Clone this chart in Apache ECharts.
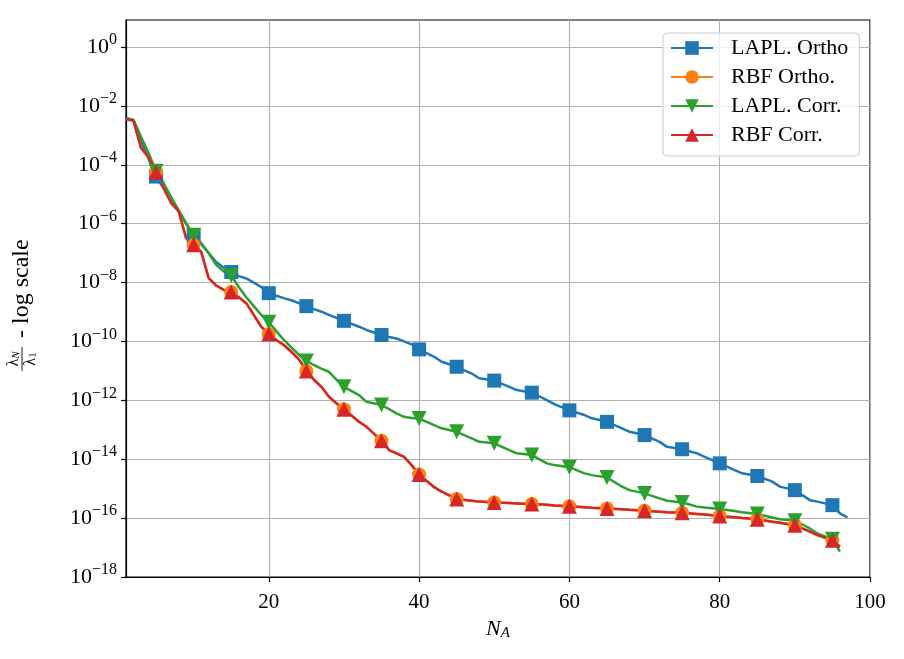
<!DOCTYPE html>
<html>
<head>
<meta charset="utf-8">
<script src="https://cdn.jsdelivr.net/npm/echarts@6/dist/echarts.min.js"></script>
<style>
html,body{margin:0;padding:0;background:#fff;}
#chart{width:904px;height:659px;}
</style>
</head>
<body>
<div id="chart"></div>
<script>
// N_A sample positions (markers every 5)
const N = [1,2,3,4,5,6,7,8,9,10,11,12,13,14,15,16,17,18,19,20,21,22,23,24,25,26,27,28,29,30,
  32,33,35,36,37,38,39,40,42,43,45,47,48,50,52,53,55,57,58,60,62,63,65,67,68,70,
  72,73,75,77,78,80,82,83,85,87,88,90,92,93,95,96,97];

// log10 of lambda_N / lambda_1
const laplOrthoLog = [-2.42,-2.48,-3.2,-3.8,-4.4,-4.8,-5.2,-5.6,-6.0,-6.42,
  -6.7,-7.0,-7.3,-7.5,-7.64,-7.78,-7.86,-8.0,-8.15,-8.36,
  -8.45,-8.53,-8.6,-8.7,-8.8,-8.9,-8.99,-9.1,-9.2,-9.3,
  -9.5,-9.61,-9.78,-9.85,-9.9,-10.0,-10.1,-10.27,
  -10.52,-10.69,-10.86,-11.09,-11.25,-11.33,
  -11.54,-11.65,-11.74,-11.99,-12.13,-12.34,
  -12.5,-12.61,-12.73,-12.95,-13.07,-13.18,
  -13.41,-13.58,-13.66,-13.8,-13.92,-14.14,
  -14.37,-14.48,-14.57,-14.76,-14.93,-15.05,
  -15.39,-15.44,-15.56,-15.84,-15.98];

const rbfOrthoLog = [-2.45,-2.51,-3.43,-3.74,-4.25,-4.79,-5.3,-5.57,-6.49,-6.72,
  -6.95,-7.85,-8.1,-8.25,-8.32,-8.5,-8.7,-9.1,-9.5,-9.75,
  -9.95,-10.12,-10.35,-10.6,-11.0,-11.3,-11.54,-11.88,-12.1,-12.3,
  -12.73,-12.9,-13.37,-13.69,-13.8,-13.92,-14.2,-14.52,
  -14.95,-15.1,-15.35,-15.41,-15.44,-15.47,
  -15.49,-15.5,-15.52,-15.55,-15.57,-15.6,
  -15.63,-15.65,-15.67,-15.7,-15.72,-15.75,
  -15.78,-15.8,-15.82,-15.86,-15.88,-15.93,
  -15.97,-16.0,-16.04,-16.12,-16.16,-16.24,
  -16.46,-16.58,-16.75,-16.97,null];

const laplCorrLog = [-2.42,-2.48,-3.05,-3.6,-4.22,-4.62,-5.1,-5.54,-5.98,-6.39,
  -6.66,-7.0,-7.4,-7.62,-7.76,-8.15,-8.5,-8.8,-9.1,-9.35,
  -9.65,-9.95,-10.2,-10.45,-10.66,-10.8,-10.92,-11.03,-11.3,-11.54,
  -11.82,-12.05,-12.16,-12.3,-12.44,-12.56,-12.6,-12.62,
  -12.84,-12.95,-13.07,-13.29,-13.41,-13.46,
  -13.69,-13.8,-13.86,-14.14,-14.2,-14.27,
  -14.48,-14.54,-14.62,-14.93,-15.05,-15.16,
  -15.33,-15.41,-15.47,-15.61,-15.64,-15.69,
  -15.76,-15.8,-15.86,-15.98,-16.04,-16.09,
  -16.35,-16.52,-16.72,-17.14,null];

const rbfCorrLog = [-2.45,-2.51,-3.43,-3.74,-4.25,-4.79,-5.3,-5.57,-6.49,-6.72,
  -6.95,-7.85,-8.1,-8.25,-8.32,-8.5,-8.7,-9.1,-9.5,-9.75,
  -9.95,-10.12,-10.35,-10.6,-11.0,-11.3,-11.54,-11.88,-12.1,-12.3,
  -12.73,-12.9,-13.37,-13.69,-13.8,-13.92,-14.2,-14.52,
  -14.95,-15.1,-15.35,-15.41,-15.44,-15.47,
  -15.49,-15.5,-15.52,-15.55,-15.57,-15.6,
  -15.63,-15.65,-15.67,-15.7,-15.72,-15.75,
  -15.78,-15.8,-15.82,-15.86,-15.88,-15.93,
  -15.97,-16.0,-16.04,-16.12,-16.16,-16.24,
  -16.46,-16.58,-16.75,-16.97,null];

const seriesNames = ['LAPL. Ortho', 'RBF Ortho.', 'LAPL. Corr.', 'RBF Corr.'];
const xTicks = [20, 40, 60, 80, 100];
const yTicks = [1e-18,1e-16,1e-14,1e-12,1e-10,1e-8,1e-6,1e-4,1e-2,1e0];

const FONT = 'Liberation Serif';

function build(logs) {
  const out = [];
  N.forEach((n, i) => {
    const v = logs[i];
    if (v == null) return;
    const item = { value: [n, Math.pow(10, v)] };
    if (n % 5 !== 0) item.symbol = 'none';
    out.push(item);
  });
  return out;
}

function mkSeries(name, logs, color, symbol, size, rotate) {
  return {
    name: name, type: 'line', data: build(logs),
    symbol: symbol, symbolSize: size, symbolRotate: rotate || 0,
    showAllSymbol: true,
    lineStyle: { color: color, width: 2.5 },
    itemStyle: { color: color },
    emphasis: { disabled: true },
    animation: false
  };
}

const chart = echarts.init(document.getElementById('chart'), null, { renderer: 'canvas' });

const option = {
  backgroundColor: '#fff',
  animation: false,
  grid: { left: 126, right: 34, top: 20, bottom: 82, show: true, borderColor: '#000', borderWidth: 1.2, backgroundColor: 'transparent' },
  xAxis: {
    type: 'value', min: 1, max: 100,
    name: '{n|N}{a|A}', nameLocation: 'middle', nameGap: 41,
    nameTextStyle: { rich: {
      n: { fontFamily: FONT, fontStyle: 'italic', fontSize: 22, color: '#000' },
      a: { fontFamily: FONT, fontStyle: 'italic', fontSize: 15, color: '#000', verticalAlign: 'bottom', padding: [8, 0, 0, 0] }
    } },
    axisLine: { show: true, lineStyle: { color: '#000', width: 1.2 } },
    axisTick: { show: true, inside: false, length: 5, lineStyle: { color: '#000', width: 1.2 }, customValues: xTicks },
    axisLabel: { customValues: xTicks, fontFamily: FONT, fontSize: 21, color: '#000', margin: 15 },
    splitLine: { show: true, lineStyle: { color: '#b0b0b0', width: 1.1 } }
  },
  yAxis: {
    type: 'log', logBase: 10, min: 1e-18, max: 8.26,
    axisLine: { show: true, lineStyle: { color: '#000', width: 1.2 } },
    axisTick: { show: true, inside: false, length: 5, lineStyle: { color: '#000', width: 1.2 }, customValues: yTicks },
    axisLabel: {
      customValues: yTicks,
      margin: 9,
      formatter: function (v) {
        const e = Math.round(Math.log10(v));
        return '{b|10}{s|' + (e < 0 ? '\u2212' + (-e) : String(e)) + '}';
      },
      rich: {
        b: { fontFamily: FONT, fontSize: 22, color: '#000', lineHeight: 30 },
        s: { fontFamily: FONT, fontSize: 16, color: '#000', verticalAlign: 'top', lineHeight: 17 }
      }
    },
    splitLine: { show: true, lineStyle: { color: '#b0b0b0', width: 1.1 } }
  },
  legend: {
    orient: 'vertical', left: 663, top: 33,
    backgroundColor: 'rgba(255,255,255,0.8)', borderColor: '#cccccc', borderWidth: 1, borderRadius: 4,
    padding: [4, 11, 10, 7],
    itemWidth: 42, itemHeight: 17, itemGap: 7,
    textStyle: { fontFamily: FONT, fontSize: 22, color: '#000', lineHeight: 22, padding: [0, 0, 0, 13] },
    data: seriesNames
  },
  graphic: [{
    type: 'group', x: 22, y: 374, rotation: Math.PI / 2,
    children: [
      { type: 'text', x: 15, y: -8, style: { text: '{l|\u03bb}{s|N}', textAlign: 'center', textVerticalAlign: 'middle',
        rich: { l: { fontFamily: FONT, fontSize: 16, fill: '#000' }, s: { fontFamily: FONT, fontStyle: 'italic', fontSize: 11, fill: '#000', verticalAlign: 'bottom' } } } },
      { type: 'line', shape: { x1: 3, y1: 0, x2: 27, y2: 0 }, style: { stroke: '#000', lineWidth: 0.9 } },
      { type: 'text', x: 15, y: 9, style: { text: '{l|\u03bb}{s|1}', textAlign: 'center', textVerticalAlign: 'middle',
        rich: { l: { fontFamily: FONT, fontSize: 16, fill: '#000' }, s: { fontFamily: FONT, fontSize: 11, fill: '#000', verticalAlign: 'bottom' } } } },
      { type: 'text', x: 36, y: 0, style: { text: '- log scale', fontFamily: FONT, fontSize: 24, fill: '#000', textAlign: 'left', textVerticalAlign: 'middle' } }
    ]
  }],
  series: [
    mkSeries(seriesNames[0], laplOrthoLog, '#1f77b4', 'rect', 14),
    mkSeries(seriesNames[1], rbfOrthoLog, '#ff7f0e', 'circle', 14),
    mkSeries(seriesNames[2], laplCorrLog, '#2ca02c', 'triangle', 15, 180),
    mkSeries(seriesNames[3], rbfCorrLog, '#d62728', 'triangle', 15)
  ]
};
chart.setOption(option);
</script>
</body>
</html>
